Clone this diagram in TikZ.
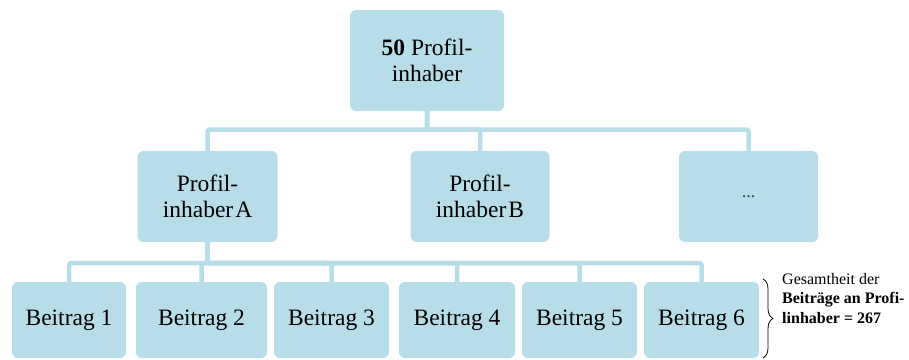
\documentclass[tikz,border=0pt]{standalone}
\usepackage{fontspec}
\setmainfont{Liberation Serif}
\usetikzlibrary{decorations.pathreplacing}
\definecolor{boxblue}{RGB}{183,221,232}
\begin{document}
\begin{tikzpicture}[x=1pt,y=-1pt,
  box/.style={rectangle, rounded corners=6pt, fill=boxblue, draw=none,
    align=center, inner sep=0pt, font=\fontsize{23.5}{26}\selectfont},
  conn/.style={draw=boxblue, line width=4.5pt, rounded corners=1.5pt},
  note/.style={align=left, inner sep=0pt, font=\fontsize{16}{19.5}\selectfont}]
\useasboundingbox (0,0) rectangle (909,359);
% level 0
\node[box, minimum width=154pt, minimum height=101pt] (top) at (427,60.5) {\textbf{50} Profil-\\inhaber};
% level 1
\node[box, minimum width=140pt, minimum height=91pt] (A) at (207.5,196.5) {Profil-\\inhaber\kern2pt A};
\node[box, minimum width=139pt, minimum height=91pt] (B) at (480,196.5) {Profil-\\inhaber\kern2pt B};
\node[box, minimum width=139pt, minimum height=91pt] (C) at (748.5,196.5) {\textcolor{black!75}{\fontsize{18}{18}\selectfont ...}};
% level 2
\node[box, minimum width=114pt, minimum height=76pt] (b1) at (69,320) {Beitrag 1};
\node[box, minimum width=131pt, minimum height=76pt] (b2) at (201.5,320) {Beitrag 2};
\node[box, minimum width=115pt, minimum height=76pt] (b3) at (331.5,320) {Beitrag 3};
\node[box, minimum width=116pt, minimum height=76pt] (b4) at (457,320) {Beitrag 4};
\node[box, minimum width=115pt, minimum height=76pt] (b5) at (579.5,320) {Beitrag 5};
\node[box, minimum width=115pt, minimum height=76pt] (b6) at (701.5,320) {Beitrag 6};
% connectors
\foreach \c in {A,B,C} \draw[conn] (top.south) -- ++(0,18.5) -| (\c.north);
\foreach \c in {b1,b2,b3,b4,b5,b6} \draw[conn] (A.south) -- ++(0,21) -| (\c.north);
% brace and note
\coordinate (bt) at (763,279);
\coordinate (bb) at (763,358);
\draw[decorate, decoration={brace, amplitude=10pt}, line width=0.8pt] (bt) -- (bb);
\node[note, anchor=west] (n) at (782,298.5) {Gesamtheit der\\\textbf{Beiträge an Profi-}\\\textbf{linhaber = 267}};
\end{tikzpicture}
\end{document}
